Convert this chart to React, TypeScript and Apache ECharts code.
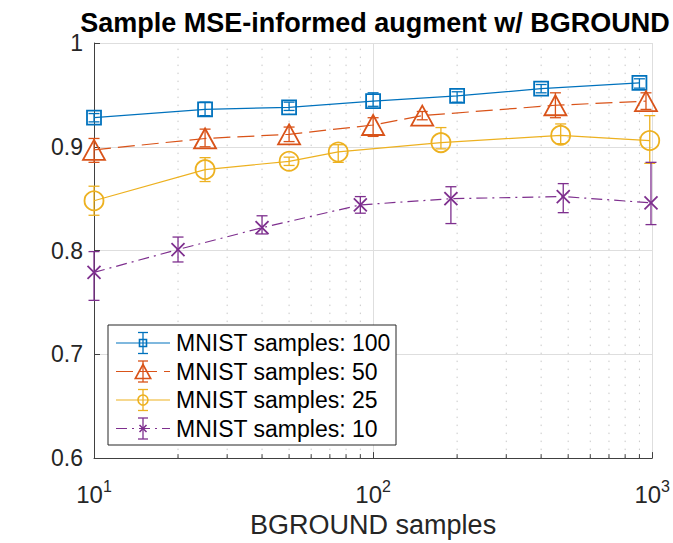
import React, { useEffect, useRef } from "react";
import * as echarts from "echarts";

// ---------- data ----------
const TITLE = "Sample MSE-informed augment w/ BGROUND";
const X_NAME = "BGROUND samples";
const X_MIN = 10;
const X_MAX = 1000;
const Y_MIN = 0.6;
const Y_MAX = 1;
const Y_STEP = 0.1;
const X_MINOR = [20, 30, 40, 50, 60, 70, 80, 90, 200, 300, 400, 500, 600, 700, 800, 900];

const LABELS = ["MNIST samples: 100", "MNIST samples: 50", "MNIST samples: 25", "MNIST samples: 10"];

const X100 = [10, 25, 50, 100, 200, 400, 900];
const Y100 = [0.928, 0.936, 0.938, 0.944, 0.949, 0.956, 0.9615];
const LO100 = [0.004, 0.006, 0.003, 0.005, 0.006, 0.004, 0.005];
const HI100 = [0.004, 0.007, 0.005, 0.008, 0.004, 0.004, 0.004];

const X50 = [10, 25, 50, 100, 150, 450, 950];
const Y50 = [0.897, 0.908, 0.912, 0.921, 0.930, 0.940, 0.944];
const LO50 = [0.012, 0.008, 0.007, 0.011, 0.004, 0.012, 0.008];
const HI50 = [0.011, 0.009, 0.007, 0.007, 0.004, 0.012, 0.008];

const X25 = [10, 25, 50, 75, 175, 470, 980];
const Y25 = [0.848, 0.878, 0.886, 0.895, 0.904, 0.911, 0.906];
const LO25 = [0.014, 0.0115, 0.004, 0.01, 0.006, 0.008, 0.022];
const HI25 = [0.014, 0.0115, 0.004, 0.007, 0.0145, 0.011, 0.024];

const X10 = [10, 20, 40, 90, 190, 480, 990];
const Y10 = [0.779, 0.801, 0.822, 0.844, 0.85, 0.852, 0.846];
const LO10 = [0.027, 0.012, 0.006, 0.008, 0.024, 0.0155, 0.021];
const HI10 = [0.02, 0.012, 0.0115, 0.008, 0.0115, 0.0125, 0.039];

// ---------- styles ----------
const FONT = "Liberation Sans, Arial, Helvetica, sans-serif";
const COLORS = ["#0072BD", "#D95319", "#EDB120", "#7E2F8E"];
const MARKERS = ["square", "triangle", "circle", "cross"];
const DASHES: (string | number[])[] = ["solid", [17, 7], "solid", [11, 5, 2, 5]];
const AXIS_COLOR = "#404040";
const GRID_COLOR = "#dedede";

const SERIES = [
  { x: X100, y: Y100, lo: LO100, hi: HI100 },
  { x: X50, y: Y50, lo: LO50, hi: HI50 },
  { x: X25, y: Y25, lo: LO25, hi: HI25 },
  { x: X10, y: Y10, lo: LO10, hi: HI10 },
];

function marker(kind: string, cx: number, cy: number, s: number, color: string, lw: number, z?: number): any {
  const style = { fill: "none", stroke: color, lineWidth: lw };
  const zz = z === undefined ? {} : { z };
  if (kind === "square") {
    return { type: "rect", ...zz, shape: { x: cx - s / 2, y: cy - s / 2, width: s, height: s }, style };
  }
  if (kind === "triangle") {
    const w = s * 1.1;
    return {
      type: "polygon",
      ...zz,
      shape: { points: [[cx, cy - s / 2], [cx - w / 2, cy + s / 2], [cx + w / 2, cy + s / 2]] },
      style,
    };
  }
  if (kind === "circle") {
    return { type: "circle", ...zz, shape: { cx, cy, r: s / 2 }, style };
  }
  const h = s / 2;
  return {
    type: "group",
    children: [
      { type: "line", ...zz, shape: { x1: cx - h, y1: cy - h, x2: cx + h, y2: cy + h }, style },
      { type: "line", ...zz, shape: { x1: cx - h, y1: cy + h, x2: cx + h, y2: cy - h }, style },
    ],
  };
}

const MARKER_SIZE = [14, 20, 19, 13];
const LEGEND_MARKER_SIZE = [7, 14, 10, 7];

function buildOption(): any {
  const series: any[] = [];

  // minor grid + minor ticks
  series.push({
    type: "custom",
    silent: true,
    z: 1,
    data: X_MINOR.map((v) => [v, Y_MIN]),
    encode: { x: 0, y: 1 },
    renderItem: (_p: any, api: any) => {
      const x = api.value(0);
      const b = api.coord([x, Y_MIN]);
      const t = api.coord([x, Y_MAX]);
      return {
        type: "group",
        children: [
          {
            type: "line",
            shape: { x1: b[0], y1: b[1], x2: t[0], y2: t[1] },
            style: { stroke: "#c8c8c8", lineWidth: 1, lineDash: [1.5, 6.5] },
          },
          {
            type: "line",
            shape: { x1: b[0], y1: b[1], x2: b[0], y2: b[1] - 4 },
            style: { stroke: AXIS_COLOR, lineWidth: 1 },
          },
        ],
      };
    },
  });

  SERIES.forEach((s, k) => {
    const color = COLORS[k];
    series.push({
      type: "line",
      name: LABELS[k],
      data: s.x.map((x, i) => [x, s.y[i]]),
      showSymbol: false,
      silent: true,
      z: 2,
      lineStyle: { color, width: 1.2, type: DASHES[k] },
    });
    series.push({
      type: "custom",
      name: LABELS[k] + " err",
      silent: true,
      z: 3,
      data: s.x.map((x, i) => [x, s.y[i], s.lo[i], s.hi[i]]),
      encode: { x: 0, y: 1 },
      renderItem: (_p: any, api: any) => {
        const x = api.value(0);
        const y = api.value(1);
        const lo = api.value(2);
        const hi = api.value(3);
        const c = api.coord([x, y]);
        const t = api.coord([x, y + hi]);
        const b = api.coord([x, y - lo]);
        const cap = 5.5;
        const st = { stroke: color, lineWidth: 1.3 };
        return {
          type: "group",
          children: [
            { type: "line", shape: { x1: c[0], y1: t[1], x2: c[0], y2: b[1] }, style: st },
            { type: "line", shape: { x1: c[0] - cap, y1: t[1], x2: c[0] + cap, y2: t[1] }, style: st },
            { type: "line", shape: { x1: c[0] - cap, y1: b[1], x2: c[0] + cap, y2: b[1] }, style: st },
            marker(MARKERS[k], c[0], c[1], MARKER_SIZE[k], color, 1.8),
          ],
        };
      },
    });
  });

  // legend (drawn)
  const Z = 100;
  const lx = 108, ly = 325, lw = 288, lh = 120;
  const rowY = [343, 371.5, 400, 428.5];
  const legendChildren: any[] = [
    { type: "rect", z: Z, shape: { x: lx, y: ly, width: lw, height: lh }, style: { fill: "#fff", stroke: "#262626", lineWidth: 1 } },
  ];
  LABELS.forEach((lab, k) => {
    const y = rowY[k];
    const color = COLORS[k];
    const dash = DASHES[k];
    const st: any = { stroke: color, lineWidth: 1.2 };
    if (Array.isArray(dash)) st.lineDash = dash;
    legendChildren.push({ type: "line", z: Z + 1, shape: { x1: 116, y1: y, x2: 170, y2: y }, style: st });
    const es = { stroke: color, lineWidth: 1.3 };
    legendChildren.push({ type: "line", z: Z + 1, shape: { x1: 143, y1: y - 10.5, x2: 143, y2: y + 10.5 }, style: es });
    legendChildren.push({ type: "line", z: Z + 1, shape: { x1: 138, y1: y - 10.5, x2: 148, y2: y - 10.5 }, style: es });
    legendChildren.push({ type: "line", z: Z + 1, shape: { x1: 138, y1: y + 10.5, x2: 148, y2: y + 10.5 }, style: es });
    legendChildren.push(marker(MARKERS[k], 143, y, LEGEND_MARKER_SIZE[k], color, 1.6, Z + 2));
    legendChildren.push({
      type: "text",
      z: Z + 1,
      x: 176,
      y: y,
      style: {
        text: lab,
        fill: "#000",
        fontSize: 23,
        fontFamily: FONT,
        align: "left",
        verticalAlign: "middle",
        textAlign: "left",
        textVerticalAlign: "middle",
      },
    });
  });

  return {
    animation: false,
    backgroundColor: "#fff",
    title: {
      text: TITLE,
      left: 370,
      top: 4,
      textAlign: "center",
      textStyle: { fontSize: 27, fontWeight: "bold", fontFamily: FONT, color: "#000" },
    },
    grid: { left: 94, right: 19, top: 43, bottom: 84, containLabel: false },
    xAxis: {
      type: "log",
      logBase: 10,
      min: X_MIN,
      max: X_MAX,
      name: X_NAME,
      nameLocation: "middle",
      nameGap: 51,
      nameTextStyle: { fontSize: 27, fontFamily: FONT, color: "#262626" },
      axisLine: { show: true, lineStyle: { color: AXIS_COLOR, width: 1 } },
      axisTick: { show: true, inside: true, length: 6, lineStyle: { color: AXIS_COLOR } },
      splitLine: { show: true, lineStyle: { color: GRID_COLOR, width: 1 } },
      axisLabel: {
        margin: 20,
        formatter: (v: number) => `{b|10}{s|${Math.round(Math.log10(v))}}`,
        rich: {
          b: { fontSize: 24, fontFamily: FONT, color: "#262626", lineHeight: 28, verticalAlign: "bottom" },
          s: { fontSize: 16, fontFamily: FONT, color: "#262626", lineHeight: 16, verticalAlign: "top" },
        },
      },
    },
    yAxis: {
      type: "value",
      min: Y_MIN,
      max: Y_MAX,
      interval: Y_STEP,
      axisLine: { show: true, onZero: false, lineStyle: { color: AXIS_COLOR, width: 1 } },
      axisTick: { show: true, inside: true, length: 6, lineStyle: { color: AXIS_COLOR } },
      splitLine: { show: true, lineStyle: { color: GRID_COLOR, width: 1 } },
      axisLabel: {
        margin: 11,
        fontSize: 23,
        fontFamily: FONT,
        color: "#262626",
        formatter: (v: number) => (Math.abs(v - 1) < 1e-9 ? "1" : v.toFixed(1)),
      },
    },
    series,
    graphic: { elements: [{ type: "group", z: Z, children: legendChildren }] },
  };
}

export default function App() {
  const ref = useRef<HTMLDivElement>(null);
  useEffect(() => {
    document.body.style.margin = "0";
    if (!ref.current) return;
    const chart = echarts.init(ref.current, null, { renderer: "svg" });
    chart.setOption(buildOption());
    return () => chart.dispose();
  }, []);
  return <div ref={ref} style={{ width: 673, height: 543 }} />;
}
